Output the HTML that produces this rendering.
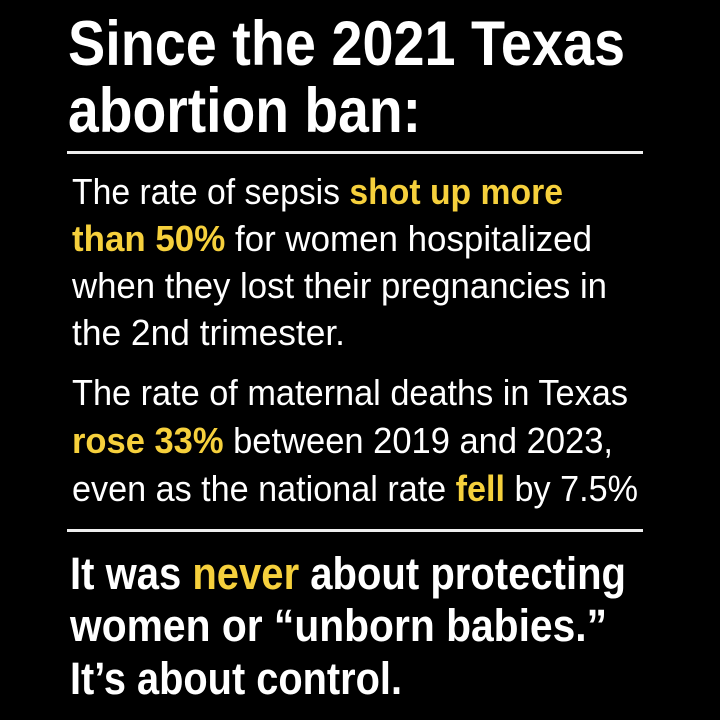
<!DOCTYPE html>
<html>
<head>
<meta charset="utf-8">
<style>
html,body{margin:0;padding:0;background:#000;}
svg{display:block;}
text{font-family:"Liberation Sans",sans-serif;}
.t{font-weight:bold;font-size:63px;fill:#fff;}
.p{font-weight:normal;font-size:36px;fill:#fff;}
.f{font-weight:bold;font-size:45px;fill:#fff;}
.y{fill:#f6d03c;font-weight:bold;}
</style>
</head>
<body>
<svg width="720" height="720" viewBox="0 0 720 720" xmlns="http://www.w3.org/2000/svg">
<rect x="0" y="0" width="720" height="720" fill="#000"/>
<text class="t" x="68" y="65" textLength="557" lengthAdjust="spacingAndGlyphs">Since the 2021 Texas</text>
<text class="t" x="68" y="132" textLength="353" lengthAdjust="spacingAndGlyphs">abortion ban:</text>
<rect x="67" y="151" width="576" height="3" fill="#eeeeee"/>

<text class="p" x="72" y="204" textLength="491" lengthAdjust="spacingAndGlyphs">The rate of sepsis <tspan class="y">shot up more</tspan></text>
<text class="p" x="72" y="251" textLength="520" lengthAdjust="spacingAndGlyphs"><tspan class="y">than 50%</tspan> for women hospitalized</text>
<text class="p" x="72" y="298" textLength="535" lengthAdjust="spacingAndGlyphs">when they lost their pregnancies in</text>
<text class="p" x="72" y="345" textLength="273" lengthAdjust="spacingAndGlyphs">the 2nd trimester.</text>

<text class="p" x="72" y="405" textLength="556" lengthAdjust="spacingAndGlyphs">The rate of maternal deaths in Texas</text>
<text class="p" x="72" y="453" textLength="541" lengthAdjust="spacingAndGlyphs"><tspan class="y">rose 33%</tspan> between 2019 and 2023,</text>
<text class="p" x="72" y="501" textLength="566" lengthAdjust="spacingAndGlyphs">even as the national rate <tspan class="y">fell</tspan> by 7.5%</text>
<rect x="67" y="529" width="576" height="3" fill="#eeeeee"/>

<text class="f" x="70" y="589" textLength="556" lengthAdjust="spacingAndGlyphs">It was <tspan class="y">never</tspan> about protecting</text>
<text class="f" x="70" y="641" textLength="537" lengthAdjust="spacingAndGlyphs">women or “unborn babies.”</text>
<text class="f" x="70" y="694" textLength="332" lengthAdjust="spacingAndGlyphs">It’s about control.</text>
</svg>
</body>
</html>
